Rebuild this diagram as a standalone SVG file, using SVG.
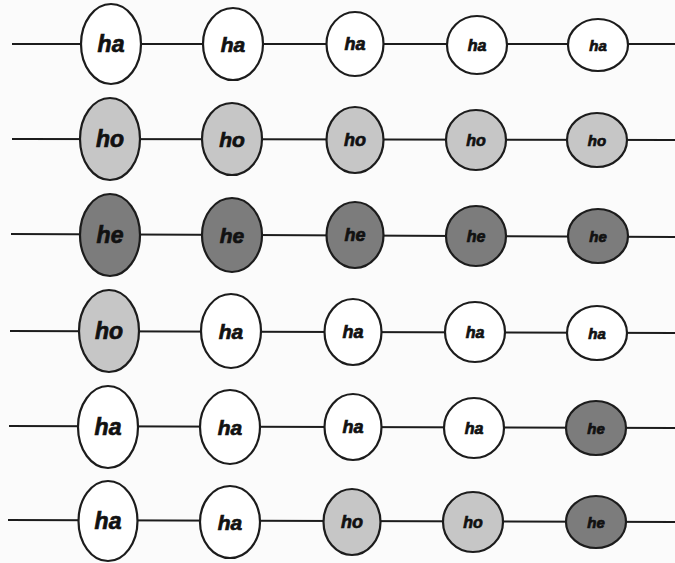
<svg xmlns="http://www.w3.org/2000/svg" width="675" height="563" viewBox="0 0 675 563">
  <style>
    .bg { fill: #fbfbfb; }
    .wire { stroke: #1c1c1c; stroke-width: 2; fill: none; }
    .node ellipse { stroke: #1c1c1c; stroke-width: 2.2; }
    .ha ellipse { fill: #ffffff; }
    .ho ellipse { fill: #c6c6c6; }
    .he ellipse { fill: #7c7c7c; }
    .node text { font-family: "Liberation Sans", Arial, sans-serif; font-weight: bold; font-style: italic; fill: #111; stroke: #111; stroke-width: 0.7; text-anchor: middle; dominant-baseline: central; }
    .c1 text { font-size: 23px; }
    .c2 text { font-size: 21px; }
    .c3 text { font-size: 18px; }
    .c4 text { font-size: 16px; }
    .c5 text { font-size: 15px; }
  </style>
  <rect class="bg" x="0" y="0" width="675" height="563"/>

  <!-- horizontal wires, one line per row, drawn beneath the nodes -->
  <g id="connectors">
    <line class="wire" x1="12" y1="44" x2="675" y2="44"/>
    <line class="wire" x1="12" y1="139" x2="675" y2="140"/>
    <line class="wire" x1="11" y1="234" x2="675" y2="237"/>
    <line class="wire" x1="10" y1="331" x2="675" y2="333"/>
    <line class="wire" x1="9" y1="426" x2="675" y2="428"/>
    <line class="wire" x1="8" y1="520" x2="675" y2="522"/>
  </g>

  <!-- row 1 -->
  <g id="r1n1" class="node ha c1"><ellipse cx="111" cy="44" rx="30" ry="40"/><text x="111" y="44">ha</text></g>
  <g id="r1n2" class="node ha c2"><ellipse cx="233" cy="44" rx="30" ry="36"/><text x="233" y="44">ha</text></g>
  <g id="r1n3" class="node ha c3"><ellipse cx="355" cy="44" rx="28.5" ry="32"/><text x="355" y="44">ha</text></g>
  <g id="r1n4" class="node ha c4"><ellipse cx="477" cy="45" rx="30" ry="29"/><text x="477" y="45">ha</text></g>
  <g id="r1n5" class="node ha c5"><ellipse cx="598" cy="45" rx="30" ry="26"/><text x="598" y="45">ha</text></g>

  <!-- row 2 -->
  <g id="r2n1" class="node ho c1"><ellipse cx="110" cy="139" rx="30" ry="41"/><text x="110" y="139">ho</text></g>
  <g id="r2n2" class="node ho c2"><ellipse cx="232" cy="139" rx="30" ry="36"/><text x="232" y="139">ho</text></g>
  <g id="r2n3" class="node ho c3"><ellipse cx="355" cy="140" rx="28.5" ry="33"/><text x="355" y="140">ho</text></g>
  <g id="r2n4" class="node ho c4"><ellipse cx="476" cy="140" rx="30" ry="30"/><text x="476" y="140">ho</text></g>
  <g id="r2n5" class="node ho c5"><ellipse cx="597" cy="140" rx="30" ry="27"/><text x="597" y="140">ho</text></g>

  <!-- row 3 -->
  <g id="r3n1" class="node he c1"><ellipse cx="110" cy="235" rx="30" ry="41"/><text x="110" y="235">he</text></g>
  <g id="r3n2" class="node he c2"><ellipse cx="232" cy="235" rx="30" ry="37"/><text x="232" y="235">he</text></g>
  <g id="r3n3" class="node he c3"><ellipse cx="355" cy="235" rx="28.5" ry="33"/><text x="355" y="235">he</text></g>
  <g id="r3n4" class="node he c4"><ellipse cx="476" cy="236" rx="30" ry="30"/><text x="476" y="236">he</text></g>
  <g id="r3n5" class="node he c5"><ellipse cx="598" cy="236" rx="30" ry="27"/><text x="598" y="236">he</text></g>

  <!-- row 4 -->
  <g id="r4n1" class="node ho c1"><ellipse cx="109" cy="331" rx="30" ry="41"/><text x="109" y="331">ho</text></g>
  <g id="r4n2" class="node ha c2"><ellipse cx="231" cy="331" rx="30" ry="37"/><text x="231" y="331">ha</text></g>
  <g id="r4n3" class="node ha c3"><ellipse cx="353" cy="332" rx="28.5" ry="33"/><text x="353" y="332">ha</text></g>
  <g id="r4n4" class="node ha c4"><ellipse cx="475" cy="332" rx="30" ry="30"/><text x="475" y="332">ha</text></g>
  <g id="r4n5" class="node ha c5"><ellipse cx="597" cy="333" rx="30" ry="27"/><text x="597" y="333">ha</text></g>

  <!-- row 5 -->
  <g id="r5n1" class="node ha c1"><ellipse cx="108" cy="427" rx="30" ry="41"/><text x="108" y="427">ha</text></g>
  <g id="r5n2" class="node ha c2"><ellipse cx="230" cy="427" rx="30" ry="37"/><text x="230" y="427">ha</text></g>
  <g id="r5n3" class="node ha c3"><ellipse cx="353" cy="427" rx="28.5" ry="33"/><text x="353" y="427">ha</text></g>
  <g id="r5n4" class="node ha c4"><ellipse cx="474" cy="428" rx="30" ry="30"/><text x="474" y="428">ha</text></g>
  <g id="r5n5" class="node he c5"><ellipse cx="596" cy="428" rx="30" ry="27"/><text x="596" y="428">he</text></g>

  <!-- row 6 -->
  <g id="r6n1" class="node ha c1"><ellipse cx="108" cy="521" rx="29.5" ry="40"/><text x="108" y="521">ha</text></g>
  <g id="r6n2" class="node ha c2"><ellipse cx="230" cy="522" rx="30" ry="36"/><text x="230" y="522">ha</text></g>
  <g id="r6n3" class="node ho c3"><ellipse cx="352" cy="522" rx="28.5" ry="33"/><text x="352" y="522">ho</text></g>
  <g id="r6n4" class="node ho c4"><ellipse cx="473" cy="522" rx="30" ry="30"/><text x="473" y="522">ho</text></g>
  <g id="r6n5" class="node he c5"><ellipse cx="596" cy="522" rx="30" ry="26"/><text x="596" y="522">he</text></g>
</svg>
